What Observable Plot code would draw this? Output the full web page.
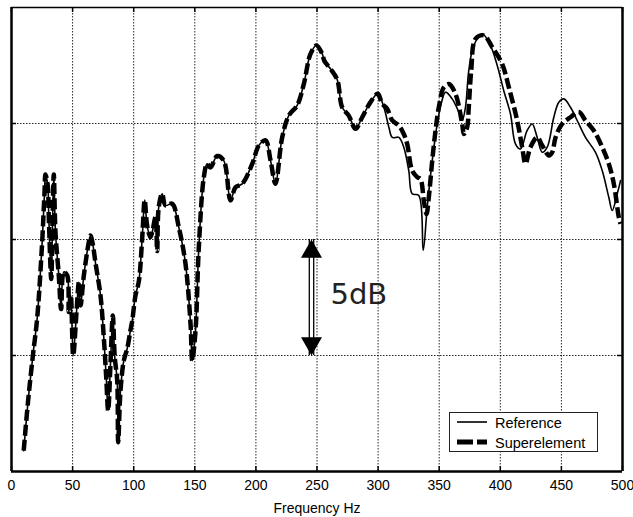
<!DOCTYPE html>
<html><head><meta charset="utf-8">
<script src="https://cdn.jsdelivr.net/npm/d3@7"></script>
<script src="https://cdn.jsdelivr.net/npm/@observablehq/plot@0.6"></script>
<style>
html,body{margin:0;padding:0;background:#fff;}
#wrap{position:relative;width:633px;height:517px;font-family:"Liberation Sans",Arial,sans-serif;}
#legend{position:absolute;left:449px;top:412px;width:149px;height:40px;border:1px solid #222;background:#fff;box-sizing:border-box;}
#legend svg{display:block;}
</style></head><body><div id="wrap"></div>
<script>
// Shared part (both curves coincide up to ~300 Hz)
const freqCommon = [10,13.5,17.5,21,25,27,27.8,29.7,30.5,32.5,33.5,34.6,36,38.7,40.6,42.8,45.6,46.9,48.5,50.5,53.2,55.1,56.5,59.2,63.3,64.6,66.5,68.7,72.8,75.5,77.5,79.1,81,82.9,84.5,86.5,87.3,89.2,91.9,94.7,97.4,98.8,101.5,104.2,107,109,111,113.7,115.5,117.8,119.2,120.5,123.3,126,131.5,136.9,142.4,146.5,147.9,150.6,153.3,157.4,160.1,162.8,168.3,173.7,179.2,183.3,188.8,197,202.4,207.9,212,216,221.5,226.9,233.8,239.2,244.7,249.5,254.3,256,261,266.5,270.6,276,281.5,287,293.8,299.8];
const dbCommon = [0.9,3.0,5.0,6.6,9.8,12.0,12.8,12.3,11.0,8.3,10.5,12.8,10.3,8.45,7.0,8.6,8.45,6.87,7.6,5.0,6.87,8.16,7.16,8.45,9.9,10.17,9.8,9.0,7.6,5.8,4.07,2.63,4.64,6.72,4.93,3.92,1.26,3.49,4.78,5.3,6.1,6.5,7.6,8.2,10.1,11.7,10.6,10.1,10.4,10.96,9.5,11.4,11.97,11.47,11.54,10.53,8.95,6.37,4.78,6.08,9.67,12.69,13.26,13.1,13.6,13.4,11.68,12.25,12.4,13.26,14.05,14.27,13.4,12.4,14.4,15.34,15.78,16.7,18.0,18.36,18.0,17.7,17.36,16.9,15.7,15.34,14.77,15.27,15.92,16.28];
// Reference (solid) above 300 Hz
const freqRef = [304.7,308.8,311.6,317,321,325.1,327.9,333.3,336.9,340.2,344.3,348.4,351.6,355.2,360.6,366,368.8,371.5,374.2,378.3,385.2,392,397.5,402.9,408.3,412.4,416.5,422,426.1,430.2,434.3,438.4,443.8,447.9,452,457.4,462.9,469.7,477.9,483.4,488.8,491.6,495.7,498.4];
const dbRef = [15.7,14.84,14.4,14.4,13.98,12.97,11.97,11.9,9.53,11.4,13.4,14.98,15.85,16.35,16.06,15.5,15.13,15.7,17.28,18.36,18.87,18.36,17.5,16.4,15.42,14.12,13.9,14.7,14.98,14.4,13.76,13.98,15.27,15.92,16.06,15.7,15.13,14.4,13.76,12.97,11.82,11.25,11.97,12.54];
// Superelement (dashed) above 300 Hz
const freqSup = [303.3,307.4,311.6,317,321,323.8,327.9,332,334.7,337.4,339.6,341.5,344.3,347,349.7,353.8,357.9,363.3,368.8,370.2,372.9,374.2,376.2,379.7,386.5,393.4,401.5,407,413.8,417.9,420.6,424.7,430.2,434.3,439.8,442.5,445.2,450.6,457.4,464.2,469.7,476.5,483.4,488.8,492.9,497,498.4];
const dbSup = [15.85,15.63,15.13,14.91,14.55,14.12,12.97,12.69,12.6,11.68,11.1,11.82,13.4,14.7,15.7,16.56,16.7,16.28,14.98,14.55,14.84,15.7,17.28,18.65,18.8,18.29,17.57,16.56,15.13,13.98,13.26,13.98,14.4,14.05,13.62,13.76,14.4,14.98,15.27,15.5,15.13,14.7,13.98,13.26,12.4,10.96,10.68];

const xTicks = [0,50,100,150,200,250,300,350,400,450,500];
const yGrid = [5,10,15];
const seriesNames = ["Reference","Superelement"];
const xLabel = ["Frequency Hz"];
const arrowSpec = [{x: 245.5, y1: 5, y2: 10}];
const annoText = [{x: 261, y: 7.6, text: "5dB"}];

const common = freqCommon.map((f,i)=>({f, db: dbCommon[i]}));
const refData = common.concat(freqRef.map((f,i)=>({f, db: dbRef[i]})));
const supData = common.concat(freqSup.map((f,i)=>({f, db: dbSup[i]})));

const W = 633, H = 517, mL = 11, mR = 11, mT = 7, mB = 46;
const iw = W - mL - mR, ih = H - mT - mB;

const chart = Plot.plot({
  width: W, height: H,
  marginLeft: mL, marginRight: mR, marginTop: mT, marginBottom: mB,
  style: {fontFamily: '"Liberation Sans", Arial, sans-serif', fontSize: "14px", color: "#000", background: "#fff"},
  x: {domain: [0, 500], ticks: xTicks, tickSize: 0, tickPadding: 9, label: null},
  y: {domain: [0, 20], axis: null},
  marks: [
    Plot.ruleX(xTicks.slice(1, -1), {stroke: "#000", strokeWidth: 1, strokeDasharray: "1.5,1.5", strokeOpacity: 0.85}),
    Plot.ruleY(yGrid, {stroke: "#000", strokeWidth: 1, strokeDasharray: "1.5,1.5", strokeOpacity: 0.85}),
    Plot.ruleX(xTicks, {insetBottom: ih - 5, strokeWidth: 1.5}),
    Plot.ruleX(xTicks, {insetTop: ih - 5, strokeWidth: 1.5}),
    Plot.ruleY(yGrid, {insetRight: iw - 5, strokeWidth: 1.5}),
    Plot.ruleY(yGrid, {insetLeft: iw - 5, strokeWidth: 1.5}),
    Plot.line(refData, {x: "f", y: "db", stroke: "#000", strokeWidth: 1.6, curve: "catmull-rom"}),
    Plot.line(supData, {x: "f", y: "db", stroke: "#000", strokeWidth: 4.5, strokeDasharray: "11,4", strokeLinecap: "butt", strokeLinejoin: "round", curve: "catmull-rom"}),
    Plot.ruleX(arrowSpec, {x: "x", y1: "y1", y2: "y2", dx: -2.2, strokeWidth: 1.3}),
    Plot.ruleX(arrowSpec, {x: "x", y1: "y1", y2: "y2", dx: 2.2, strokeWidth: 1.3}),
    Plot.dot(arrowSpec, {x: "x", y: "y2", symbol: "triangle", r: 7.8, fill: "#000", stroke: null, dy: 12.1}),
    Plot.dot(arrowSpec, {x: "x", y: "y1", symbol: "triangle", r: 7.8, fill: "#000", stroke: null, rotate: 180, dy: -12.1}),
    Plot.text(annoText, {x: "x", y: "y", text: "text", textAnchor: "start", fontSize: 29, fontFamily: '"DejaVu Sans", sans-serif', fill: "#222"}),
    Plot.ruleX([0, 500], {strokeWidth: 2.5}),
    Plot.ruleY([0], {strokeWidth: 2.5}),
    Plot.ruleY([20], {strokeWidth: 1.5}),
    Plot.text(xLabel, {text: d => d, frameAnchor: "bottom", dy: 37, fontSize: 14, lineAnchor: "middle"})
  ]
});

const wrap = document.getElementById("wrap");
wrap.appendChild(chart);

// Legend box
const leg = document.createElement("div");
leg.id = "legend";
const ns = "http://www.w3.org/2000/svg";
const lsvg = document.createElementNS(ns, "svg");
lsvg.setAttribute("width", 147); lsvg.setAttribute("height", 38);
const rows = [
  {name: seriesNames[0], y: 9, sw: 1.6, dash: null},
  {name: seriesNames[1], y: 29, sw: 5, dash: "16,4"}
];
rows.forEach(r => {
  const ln = document.createElementNS(ns, "line");
  ln.setAttribute("x1", 7); ln.setAttribute("x2", 37);
  ln.setAttribute("y1", r.y); ln.setAttribute("y2", r.y);
  ln.setAttribute("stroke", "#000"); ln.setAttribute("stroke-width", r.sw);
  if (r.dash) ln.setAttribute("stroke-dasharray", r.dash);
  lsvg.appendChild(ln);
  const t = document.createElementNS(ns, "text");
  t.setAttribute("x", 45); t.setAttribute("y", r.y + 5.5);
  t.setAttribute("font-size", 14.5);
  t.setAttribute("font-family", '"Liberation Sans", Arial, sans-serif');
  t.textContent = r.name;
  lsvg.appendChild(t);
});
leg.appendChild(lsvg);
wrap.appendChild(leg);
</script></body></html>
